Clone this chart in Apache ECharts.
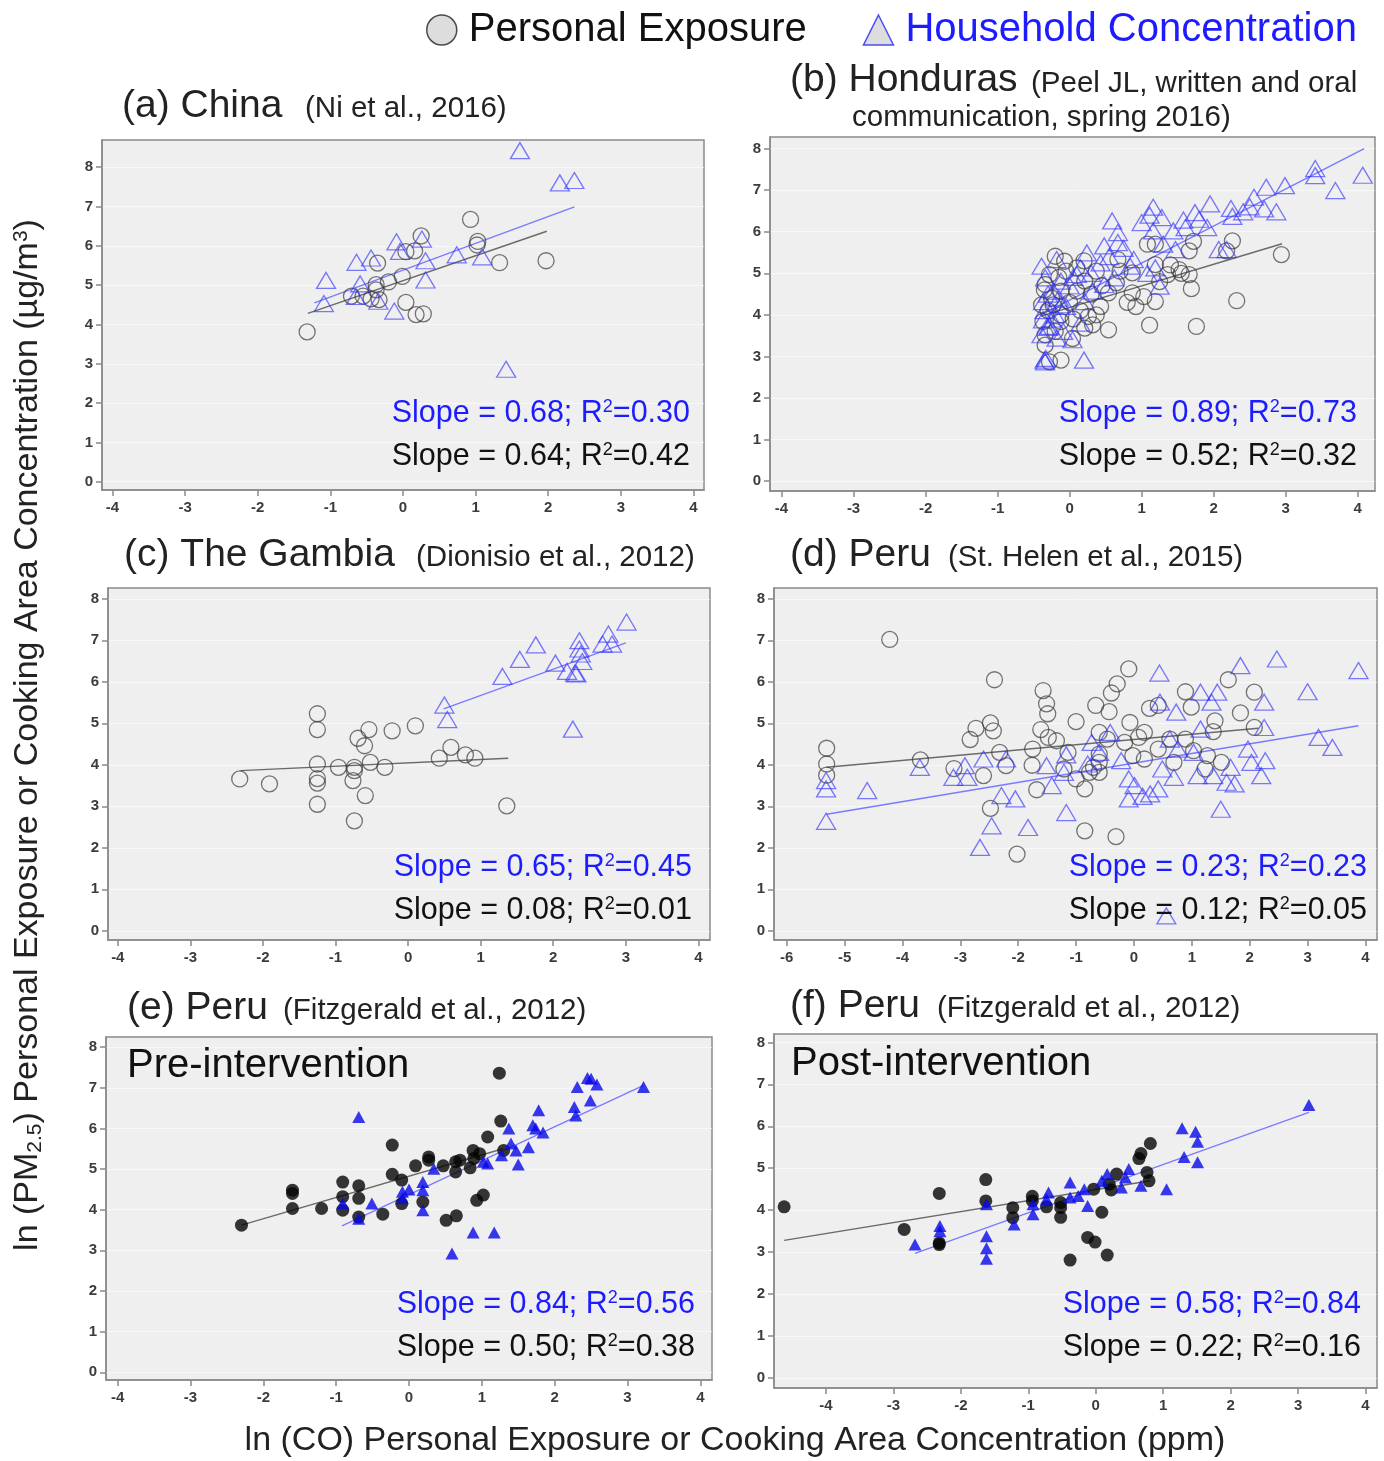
<!DOCTYPE html>
<html><head><meta charset="utf-8">
<script src="https://cdn.jsdelivr.net/npm/echarts@6/dist/echarts.min.js"></script>
<style>html,body{margin:0;padding:0;background:#fff}#c{width:1384px;height:1461px}</style>
</head><body><div id="c"></div>
<script>
// ---------- tick labels ----------
const xTicks4 = [-4,-3,-2,-1,0,1,2,3,4];
const xTicks6 = [-6,-5,-4,-3,-2,-1,0,1,2,3,4];
const yTicks = [0,1,2,3,4,5,6,7,8];

// ---------- (a) China ----------
const chinaPersonal = [[-1.32,3.81],[0.93,6.67],[0.25,6.25],[0.04,5.85],[0.16,5.87],[-0.35,5.56],[1.03,6.11],[1.02,6.02],[1.33,5.57],[1.97,5.62],[-0.01,5.22],[-0.20,5.08],[-0.37,5.01],[-0.37,4.88],[-0.71,4.72],[-0.55,4.72],[-0.44,4.65],[-0.33,4.63],[0.04,4.56],[0.18,4.25],[0.28,4.27]];
const chinaHousehold = [[1.61,8.42],[2.16,7.60],[2.36,7.66],[1.42,2.86],[-0.09,6.10],[0.26,6.17],[-0.04,5.86],[-0.44,5.69],[-0.64,5.58],[0.31,5.62],[0.74,5.77],[1.09,5.72],[-1.06,5.12],[-0.59,5.03],[0.31,5.13],[-1.09,4.53],[-0.65,4.71],[-0.34,4.59],[-0.12,4.34]];
const chinaPersonalFit = [[-1.31,4.28],[1.98,6.37]];
const chinaHouseholdFit = [[-1.22,4.55],[2.36,6.99]];

// ---------- (b) Honduras ----------
const hondurasPersonal = [[2.94,5.45],[2.26,5.78],[2.18,5.54],[1.72,5.77],[1.66,5.54],[1.66,4.97],[1.69,4.63],[2.32,4.34],[1.76,3.72],[1.11,3.75],[1.52,5.09],[1.36,4.97],[1.19,5.70],[1.08,5.70],[1.19,5.21],[1.19,4.32],[1.03,4.44],[0.92,4.20],[0.87,4.53],[0.70,5.05],[0.67,5.33],[0.54,4.53],[0.54,3.64],[0.43,4.20],[0.37,4.00],[0.26,3.96],[0.32,3.76],[0.21,3.68],[0.04,3.43],[-0.12,4.00],[-0.20,5.41],[-0.07,5.29],[-0.28,4.97],[-0.34,4.73],[-0.12,4.57],[-0.39,4.24],[-0.23,4.24],[-0.12,3.84],[-0.37,3.84],[-0.34,3.52],[-0.34,3.27],[-0.12,2.91],[-0.28,2.87],[0.10,4.57],[0.21,4.81],[0.10,5.13],[0.37,5.05],[0.65,4.77],[0.87,5.01],[-0.30,4.10],[-0.25,4.40],[-0.15,4.90],[0.00,4.30],[0.05,3.90],[-0.35,4.60],[-0.20,3.60],[0.15,4.10],[0.30,4.50],[0.45,4.70],[1.40,5.20],[1.55,5.00],[0.80,4.30],[1.25,4.80],[-0.05,5.05],[0.20,5.30]];
const hondurasHousehold = [[4.07,7.36],[3.41,7.52],[3.41,7.35],[3.69,6.99],[2.99,7.11],[2.73,7.07],[2.56,6.83],[2.70,6.55],[2.87,6.48],[2.41,6.48],[2.24,6.56],[2.26,6.37],[1.95,6.67],[1.74,6.46],[1.58,6.28],[1.61,6.10],[1.91,6.10],[1.44,6.02],[1.47,5.57],[2.07,5.57],[2.18,5.57],[1.16,6.59],[1.11,6.40],[1.28,6.34],[1.00,6.22],[1.16,6.02],[0.59,6.26],[0.67,5.98],[0.67,5.74],[0.48,5.66],[0.24,5.49],[0.89,5.33],[0.84,5.17],[1.25,4.69],[0.62,4.89],[0.15,5.13],[-0.18,5.33],[0.10,4.97],[-0.12,4.81],[-0.34,4.89],[-0.23,4.57],[-0.37,4.32],[-0.12,4.24],[-0.20,4.00],[-0.37,3.88],[-0.28,3.72],[-0.39,3.52],[-0.18,3.44],[0.04,3.40],[-0.09,3.60],[0.32,4.57],[0.48,4.73],[0.21,4.32],[-0.35,2.91],[-0.34,2.87],[0.20,2.91],[-0.39,5.17],[0.43,5.25],[1.08,5.00],[1.19,5.13],[-0.30,4.50],[-0.35,4.10],[-0.25,3.90],[-0.15,4.40],[0.00,4.70],[-0.05,4.20],[0.05,4.90],[0.30,5.00],[0.55,5.40],[0.75,5.60],[1.30,5.70],[1.80,6.30],[2.50,6.60],[-0.30,3.70],[0.15,3.80],[-0.33,2.95]];
const hondurasPersonalFit = [[-0.40,3.97],[2.95,5.71]];
const hondurasHouseholdFit = [[-0.40,4.00],[4.09,8.00]];

// ---------- (c) The Gambia ----------
const gambiaPersonal = [[-2.32,3.66],[-1.91,3.54],[-1.25,5.23],[-1.25,4.85],[-1.25,4.02],[-1.25,3.67],[-1.25,3.56],[-1.25,3.05],[-0.96,3.94],[-0.74,3.94],[-0.74,3.86],[-0.76,3.62],[-0.74,2.65],[-0.59,3.26],[-0.69,4.64],[-0.60,4.46],[-0.54,4.85],[-0.52,4.06],[-0.32,3.94],[-0.22,4.82],[0.10,4.94],[0.43,4.16],[0.59,4.42],[0.79,4.24],[0.92,4.16],[1.36,3.01]];
const gambiaHousehold = [[3.01,7.44],[2.76,7.15],[2.68,6.91],[2.81,6.91],[2.36,6.99],[2.36,6.79],[2.38,6.67],[2.40,6.49],[1.76,6.89],[1.54,6.54],[2.03,6.45],[2.19,6.25],[2.30,6.21],[2.32,6.19],[1.30,6.13],[0.50,5.44],[0.54,5.09],[2.27,4.86]];
const gambiaPersonalFit = [[-2.31,3.86],[1.38,4.16]];
const gambiaHouseholdFit = [[0.49,5.35],[3.00,6.94]];

// ---------- (d) Peru (St. Helen) ----------
const peruSHPersonal = [[-4.22,7.02],[-2.41,6.05],[-0.09,6.31],[-0.29,5.95],[-0.39,5.73],[-1.57,5.79],[-1.51,5.47],[-1.49,5.23],[-0.66,5.43],[-0.43,5.28],[-1.00,5.04],[-0.07,5.02],[0.27,5.36],[0.42,5.43],[0.89,5.76],[0.99,5.39],[1.63,6.05],[2.08,5.75],[1.84,5.25],[1.40,5.06],[2.08,4.90],[1.37,4.80],[-2.48,5.01],[-2.43,4.82],[-2.73,4.88],[-2.83,4.61],[-3.11,3.91],[-2.60,3.74],[-2.32,4.30],[-2.21,3.98],[-2.48,2.95],[-3.69,4.12],[-5.31,4.40],[-5.31,4.02],[-5.31,3.75],[-1.61,4.85],[-1.48,4.66],[-1.34,4.58],[-1.75,4.38],[-1.76,3.99],[-1.68,3.40],[-1.14,4.30],[-1.21,3.90],[-1.00,3.66],[-0.85,3.42],[-0.60,4.78],[-0.46,4.62],[-0.60,4.26],[-0.60,4.06],[-0.70,3.94],[-0.60,3.82],[-0.77,3.82],[-0.85,2.41],[-0.31,2.27],[-2.02,1.85],[-0.16,4.54],[0.08,4.66],[0.18,4.78],[-0.02,4.22],[0.18,4.14],[0.42,4.38],[0.62,4.62],[0.69,4.06],[0.89,4.62],[1.03,4.34],[1.27,4.22],[1.23,3.90],[1.51,4.06]];
const peruSHHousehold = [[3.88,6.27],[2.47,6.55],[1.84,6.39],[3.00,5.76],[3.19,4.66],[3.43,4.42],[0.44,6.21],[2.25,5.51],[1.44,5.75],[1.15,5.75],[1.34,5.51],[0.45,5.51],[0.73,5.27],[2.25,4.90],[1.97,4.38],[2.03,4.06],[2.27,4.10],[2.20,3.74],[1.67,3.94],[1.60,3.58],[1.74,3.54],[1.50,2.93],[1.37,3.74],[1.10,3.74],[1.03,4.30],[1.15,4.86],[0.76,4.38],[0.62,4.62],[0.49,3.90],[0.42,3.42],[0.28,3.30],[0.15,3.24],[-0.09,3.18],[-0.09,3.66],[0.01,3.50],[0.69,3.70],[-0.22,4.10],[-0.41,4.78],[-0.73,4.54],[-0.60,4.30],[-0.80,4.02],[-1.17,4.24],[-1.21,3.82],[-1.42,3.50],[-1.51,3.98],[-1.17,2.85],[-1.83,2.49],[-2.05,3.18],[-2.29,3.26],[-2.21,4.14],[-2.46,2.53],[-2.66,2.01],[-2.60,4.14],[-2.92,3.98],[-3.12,3.70],[-2.88,3.70],[-3.70,3.94],[-4.61,3.38],[-5.32,3.62],[-5.32,3.42],[-5.32,2.64],[0.56,0.36]];
const peruSHPersonalFit = [[-5.31,3.94],[2.15,4.88]];
const peruSHHouseholdFit = [[-5.31,2.81],[3.88,4.94]];

// ---------- (e) Peru pre-intervention ----------
const peruPrePersonal = [[-2.30,3.62],[-1.60,4.48],[-1.60,4.40],[-1.60,4.03],[-1.20,4.03],[-0.91,4.68],[-0.91,4.32],[-0.91,3.99],[-0.69,4.59],[-0.69,4.28],[-0.69,3.82],[-0.36,3.89],[-0.23,5.59],[-0.23,4.87],[-0.10,4.73],[-0.10,4.15],[0.09,5.08],[0.27,5.30],[0.27,5.22],[0.47,5.08],[0.64,5.18],[0.70,5.22],[0.64,4.93],[0.88,5.46],[0.97,5.38],[0.89,5.26],[0.84,5.03],[1.08,5.79],[1.24,7.36],[1.26,6.18],[1.30,5.46],[0.93,4.23],[1.02,4.36],[0.51,3.74],[0.65,3.85],[0.19,4.19]];
const peruPreHousehold = [[-0.69,6.28],[3.22,7.02],[2.31,7.02],[2.45,7.24],[2.50,7.22],[2.58,7.08],[2.49,6.69],[2.27,6.53],[2.29,6.32],[1.78,6.45],[1.70,6.08],[1.74,6.00],[1.84,5.90],[1.64,5.54],[1.37,6.00],[1.40,5.63],[1.47,5.46],[1.27,5.34],[1.50,5.11],[1.08,5.14],[1.02,5.18],[0.34,5.01],[0.19,4.68],[0.19,4.48],[0.19,3.99],[0.00,4.50],[-0.09,4.44],[-0.09,4.28],[-0.51,4.15],[-0.91,4.15],[-0.69,3.78],[0.88,3.44],[1.17,3.44],[0.59,2.92]];
const peruPrePersonalFit = [[-2.30,3.62],[1.29,5.50]];
const peruPreHouseholdFit = [[-0.92,3.60],[3.22,7.06]];

// ---------- (f) Peru post-intervention ----------
const peruPostPersonal = [[-4.62,4.08],[-2.84,3.54],[-2.32,4.40],[-2.32,3.22],[-2.32,3.18],[-1.63,4.73],[-1.63,4.22],[-1.23,4.06],[-1.23,3.82],[-0.94,4.33],[-0.94,4.22],[-0.73,4.08],[-0.52,4.18],[-0.52,4.06],[-0.52,3.83],[-0.38,2.81],[-0.12,3.35],[-0.01,3.24],[0.09,3.95],[0.17,2.93],[-0.03,4.50],[0.23,4.48],[0.31,4.86],[0.67,5.35],[0.64,5.23],[0.76,4.90],[0.79,4.70],[0.81,5.59],[0.20,4.62]];
const peruPostHousehold = [[3.16,6.51],[1.28,5.95],[1.48,5.87],[1.51,5.63],[1.31,5.27],[1.51,5.14],[1.05,4.50],[0.49,4.98],[0.44,4.78],[0.38,4.54],[0.67,4.58],[0.17,4.86],[0.09,4.70],[-0.17,4.50],[-0.26,4.34],[-0.38,4.66],[-0.38,4.30],[-0.12,4.10],[-0.70,4.42],[-0.73,4.26],[-0.93,4.14],[-0.93,3.90],[-1.21,3.66],[-1.62,4.14],[-1.62,3.38],[-1.62,3.09],[-1.62,2.84],[-2.31,3.62],[-2.31,3.50],[-2.68,3.18]];
const peruPostPersonalFit = [[-4.62,3.28],[0.81,4.70]];
const peruPostHouseholdFit = [[-2.68,2.97],[3.16,6.33]];

// ---------- texts ----------
const householdStats = ['0.68','0.30','0.89','0.73','0.65','0.45','0.23','0.23','0.84','0.56','0.58','0.84'];
const personalStats  = ['0.64','0.42','0.52','0.32','0.08','0.01','0.12','0.05','0.50','0.38','0.22','0.16'];

// ---------- layout (positions / styles) ----------
const FONT = '"Liberation Sans", Arial, Helvetica, sans-serif';
const BLUE_TXT = '#1c1cff';
const panels = [
  {grid:{left:102,top:140,width:602,height:350}, x:[-4.145,4.145], y:[-0.21,8.69], xt:xTicks4,
   pers:chinaPersonal, hh:chinaHousehold, pf:chinaPersonalFit, hf:chinaHouseholdFit, filled:false, sx:690, sy:414},
  {grid:{left:770,top:137,width:605,height:354}, x:[-4.16,4.24], y:[-0.24,8.28], xt:xTicks4,
   pers:hondurasPersonal, hh:hondurasHousehold, pf:hondurasPersonalFit, hf:hondurasHouseholdFit, filled:false, sx:1357, sy:414},
  {grid:{left:108,top:588,width:602,height:352}, x:[-4.135,4.16], y:[-0.22,8.26], xt:xTicks4,
   pers:gambiaPersonal, hh:gambiaHousehold, pf:gambiaPersonalFit, hf:gambiaHouseholdFit, filled:false, sx:692, sy:868},
  {grid:{left:774,top:588,width:603,height:352}, x:[-6.22,4.2], y:[-0.22,8.26], xt:xTicks6,
   pers:peruSHPersonal, hh:peruSHHousehold, pf:peruSHPersonalFit, hf:peruSHHouseholdFit, filled:false, sx:1367, sy:868},
  {grid:{left:106,top:1037,width:606,height:343}, x:[-4.16,4.16], y:[-0.19,8.25], xt:xTicks4,
   pers:peruPrePersonal, hh:peruPreHousehold, pf:peruPrePersonalFit, hf:peruPreHouseholdFit, filled:true, sx:695, sy:1305},
  {grid:{left:774,top:1034,width:603,height:354}, x:[-4.77,4.17], y:[-0.24,8.2], xt:xTicks4,
   pers:peruPostPersonal, hh:peruPostHousehold, pf:peruPostPersonalFit, hf:peruPostHouseholdFit, filled:true, sx:1361, sy:1305}
];

const grids = [], xAxes = [], yAxes = [], series = [], graphics = [];
panels.forEach((p, i) => {
  grids.push(Object.assign({show:true, backgroundColor:'#efefef', borderColor:'#8a8a8a', borderWidth:1.5, containLabel:false}, p.grid));
  xAxes.push({gridIndex:i, type:'value', min:p.x[0], max:p.x[1],
    axisLine:{show:true, onZero:false, lineStyle:{color:'#8a8a8a', width:1.5}},
    axisTick:{show:true, customValues:p.xt, length:6, lineStyle:{color:'#8a8a8a', width:1.5}},
    axisLabel:{customValues:p.xt, fontSize:15, fontWeight:'bold', color:'#3c3c3c', fontFamily:FONT, margin:10},
    splitLine:{show:false}});
  yAxes.push({gridIndex:i, type:'value', min:p.y[0], max:p.y[1],
    axisLine:{show:true, onZero:false, lineStyle:{color:'#8a8a8a', width:1.5}},
    axisTick:{show:true, customValues:yTicks, length:6, lineStyle:{color:'#8a8a8a', width:1.5}},
    axisLabel:{customValues:yTicks, fontSize:15, fontWeight:'bold', color:'#3c3c3c', fontFamily:FONT, margin:9},
    splitLine:{show:true, lineStyle:{color:'rgba(255,255,255,0.55)', width:1}}});
  const persStyle = p.filled ? {color:'#050505', borderColor:'#000', borderWidth:0}
                             : {color:'rgba(0,0,0,0)', borderColor:'rgba(55,55,55,0.85)', borderWidth:1.3};
  const hhStyle = p.filled ? {color:'#0808e8', borderWidth:0}
                           : {color:'rgba(0,0,0,0)', borderColor:'rgba(50,50,255,0.8)', borderWidth:1.3};
  series.push({type:'line', xAxisIndex:i, yAxisIndex:i, data:p.pf, showSymbol:false, silent:true, z:1,
    lineStyle:{color:'#6a6a6a', width:1.4}});
  series.push({type:'line', xAxisIndex:i, yAxisIndex:i, data:p.hf, showSymbol:false, silent:true, z:1,
    lineStyle:{color:'#7b7bff', width:1.4}});
  series.push({name:'Personal Exposure', type:'scatter', xAxisIndex:i, yAxisIndex:i, data:p.pers,
    symbol:'circle', symbolSize:p.filled ? 13 : 16, itemStyle:persStyle, z:3});
  series.push({name:'Household Concentration', type:'scatter', xAxisIndex:i, yAxisIndex:i, data:p.hh,
    symbol:'triangle', symbolSize:p.filled ? [13,12] : [19,16], itemStyle:hhStyle, z:4});
  graphics.push({type:'text', x:p.sx, y:p.sy, z:10, style:{
    text:'Slope = ' + householdStats[2*i] + '; R{s|2}=' + householdStats[2*i+1],
    fill:BLUE_TXT, font:'30.5px ' + FONT, align:'right', verticalAlign:'middle',
    rich:{s:{fontSize:18, fill:BLUE_TXT, fontFamily:FONT, verticalAlign:'top'}}}});
  graphics.push({type:'text', x:p.sx, y:p.sy + 43, z:10, style:{
    text:'Slope = ' + personalStats[2*i] + '; R{s|2}=' + personalStats[2*i+1],
    fill:'#111', font:'30.5px ' + FONT, align:'right', verticalAlign:'middle',
    rich:{s:{fontSize:18, fill:'#111', fontFamily:FONT, verticalAlign:'top'}}}});
});

function txt(x, y, s, size, color, align) {
  return {type:'text', x:x, y:y, z:10, style:{text:s, fill:color || '#222', font:size + 'px ' + FONT,
    align:align || 'left', verticalAlign:'middle'}};
}
graphics.push(
  txt(122,106,'(a) China',39), txt(305,109,'(Ni et al., 2016)',29.5),
  txt(790,80,'(b) Honduras',39), txt(1031,84,'(Peel JL, written and oral',29.5), txt(852,118,'communication, spring 2016)',29.5),
  txt(124,555,'(c) The Gambia',39), txt(416,558,'(Dionisio et al., 2012)',29.5),
  txt(790,555,'(d) Peru',39), txt(948,558,'(St. Helen et al., 2015)',29.5),
  txt(127,1008,'(e) Peru',39), txt(283,1011,'(Fitzgerald et al., 2012)',29.5),
  txt(790,1006,'(f) Peru',39), txt(937,1009,'(Fitzgerald et al., 2012)',29.5),
  txt(127,1066,'Pre-intervention',40,'#111'), txt(791,1064,'Post-intervention',40,'#111'),
  txt(735,1441,'ln (CO) Personal Exposure or Cooking Area Concentration (ppm)',34,'#222','center'),
  {type:'text', x:28, y:735, rotation:Math.PI/2, z:10, style:{
    text:'ln (PM{sub|2.5}) Personal Exposure or Cooking Area Concentration (µg/m{sup|3})',
    fill:'#222', font:'34px ' + FONT, align:'center', verticalAlign:'middle',
    rich:{sub:{fontSize:21, fill:'#222', fontFamily:FONT, verticalAlign:'bottom', padding:[14,0,0,0]},
          sup:{fontSize:21, fill:'#222', fontFamily:FONT, verticalAlign:'top'}}}}
);

const chart = echarts.init(document.getElementById('c'), null, {renderer:'canvas'});
chart.setOption({
  animation:false,
  backgroundColor:'#ffffff',
  legend:{left:421, top:5, padding:5, itemWidth:30, itemHeight:30, itemGap:56, selectedMode:false,
    textStyle:{fontSize:40, fontFamily:FONT, color:'#111', padding:[0,0,0,7]},
    data:[
      {name:'Personal Exposure', icon:'circle', itemStyle:{color:'#d4d4d4', borderColor:'#222', borderWidth:1.5}},
      {name:'Household Concentration', icon:'triangle', itemStyle:{color:'#d4d4d4', borderColor:'#2222ff', borderWidth:1.5},
       textStyle:{color:BLUE_TXT}}
    ]},
  grid:grids, xAxis:xAxes, yAxis:yAxes, series:series, graphic:graphics
});
</script></body></html>
